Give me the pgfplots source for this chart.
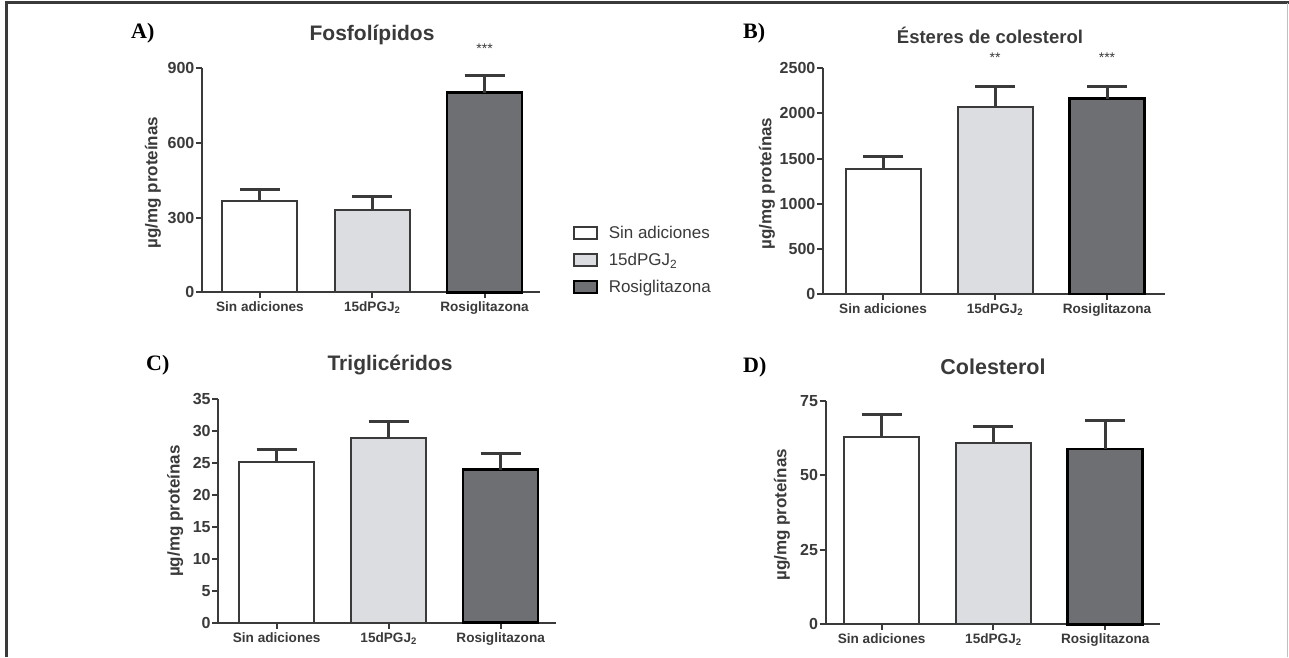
\documentclass[border=0pt]{standalone}
\usepackage{pgfplots}
\pgfplotsset{compat=1.18}
\usepackage{fontspec}
\setmainfont{Liberation Sans}
\newfontfamily\letterfont{Liberation Serif}
\definecolor{axc}{HTML}{3A3A3A}
\definecolor{lg}{HTML}{DCDDE0}
\definecolor{dg}{HTML}{6E6F72}
\pgfplotsset{
  prism/.style={
    scale only axis,
    axis lines=left,
    axis line style={-, line width=2pt, axc},
    tick style={line width=2pt, axc},
    tick align=outside,
    major tick length=6pt,
    ymin=0,
    xtick={0,1,2},
    xticklabels={Sin adiciones, 15dPGJ\textsubscript{2}, Rosiglitazona},
    ybar, bar width=75pt,
    /pgf/number format/assume math mode=true,
    /pgf/number format/set thousands separator={},
    yticklabel style={font=\fontsize{16}{16}\selectfont\bfseries, text=axc, inner sep=0pt, xshift=-1.5pt},
    xticklabel style={font=\fontsize{13.6}{14}\selectfont\bfseries, text=axc},
    every axis y label/.style={rotate=90, anchor=center, font=\fontsize{17}{17}\selectfont\bfseries, text=axc},
    clip=false,
    error bars/y dir=plus,
    error bars/y explicit,
    error bars/error mark=-,
    error bars/error mark options={rotate=90, line width=3pt, mark size=20pt, axc},
    error bars/error bar style={line width=3pt, axc},
    legend image code/.code={\draw[##1, line width=1.8pt] (0pt,-6pt) rectangle (23pt,6pt);},
  },
  b1/.style={fill=white, draw=axc, line width=2pt, bar shift=0pt},
  b2/.style={fill=lg, draw=axc, line width=2pt, bar shift=0pt},
  b3/.style={fill=dg, draw=black, line width=2.5pt, bar shift=0pt},
}
\begin{document}
\begin{tikzpicture}
\useasboundingbox (0,0) rectangle (1289pt,657pt);
\fill[white] (0,0) rectangle (1289pt,657pt);
% frame
\draw[line width=3pt, axc] (6pt,0) -- (6pt,654pt) -- (1289pt,654pt);
\draw[line width=1pt, black!25] (1287.5pt,0) -- (1287.5pt,654pt);

% ---------- A ----------
\begin{axis}[prism, at={(202pt,364.7pt)}, anchor=south west,
  width=338pt, height=224pt, xmin=-0.516, xmax=2.494,
  ymax=900, ytick={0,300,600,900},
  ylabel={µg/mg proteínas},
  every axis y label/.append style={at={(axis description cs:-0.145,0.49)}},
  legend style={at={(axis description cs:1.088,0.313)}, anchor=north west, draw=none, fill=none,
    font=\fontsize{17}{17}\selectfont, text=axc, row sep=9pt, cells={anchor=west},
    /tikz/every odd column/.append style={column sep=9pt}},
]
\addplot[b1] coordinates {(0,367) +- (0,46)};
\addplot[b2] coordinates {(1,331) +- (0,53)};
\addplot[b3] coordinates {(2,802) +- (0,71)};
\legend{Sin adiciones, 15dPGJ\textsubscript{2}, Rosiglitazona}
\node[font=\fontsize{14}{14}\selectfont, text=axc] at (axis cs:2,980) {***};
\end{axis}

% ---------- B ----------
\begin{axis}[prism, at={(823pt,363pt)}, anchor=south west,
  width=342pt, height=225.7pt, xmin=-0.536, xmax=2.518,
  ymax=2500, ytick={0,500,1000,1500,2000,2500},
  ylabel={µg/mg proteínas},
  every axis y label/.append style={at={(axis description cs:-0.164,0.49)}},
]
\addplot[b1] coordinates {(0,1381) +- (0,140)};
\addplot[b2] coordinates {(1,2068) +- (0,228)};
\addplot[b3] coordinates {(2,2165) +- (0,135)};
\node[font=\fontsize{14}{14}\selectfont, text=axc] at (axis cs:1,2615) {**};
\node[font=\fontsize{14}{14}\selectfont, text=axc] at (axis cs:2,2615) {***};
\end{axis}

% ---------- C ----------
\begin{axis}[prism, at={(218.3pt,34.3pt)}, anchor=south west,
  width=337.7pt, height=223.4pt, xmin=-0.521, xmax=2.494,
  ymax=35, ytick={0,5,10,15,20,25,30,35},
  ylabel={µg/mg proteínas},
  every axis y label/.append style={at={(axis description cs:-0.128,0.5)}},
]
\addplot[b1] coordinates {(0,25.1) +- (0,2.1)};
\addplot[b2] coordinates {(1,29.0) +- (0,2.6)};
\addplot[b3] coordinates {(2,24.0) +- (0,2.5)};
\end{axis}

% ---------- D ----------
\begin{axis}[prism, at={(825.7pt,32.7pt)}, anchor=south west,
  width=334.3pt, height=223.3pt, xmin=-0.5, xmax=2.490,
  ymax=75, ytick={0,25,50,75},
  ylabel={µg/mg proteínas},
  every axis y label/.append style={at={(axis description cs:-0.131,0.49)}},
]
\addplot[b1] coordinates {(0,62.9) +- (0,7.5)};
\addplot[b2] coordinates {(1,60.8) +- (0,5.6)};
\addplot[b3] coordinates {(2,58.9) +- (0,9.5)};
\end{axis}

% titles and panel letters
\node[font=\fontsize{21}{21}\selectfont\bfseries, text=axc] at (372pt,622pt) {Fosfolípidos};
\node[font=\fontsize{18.5}{18.5}\selectfont\bfseries, text=axc] at (990pt,622pt) {Ésteres de colesterol};
\node[font=\fontsize{21}{21}\selectfont\bfseries, text=axc] at (390pt,292pt) {Triglicéridos};
\node[font=\fontsize{21.5}{21.5}\selectfont\bfseries, text=axc] at (993pt,290pt) {Colesterol};
\node[font=\fontsize{22}{22}\selectfont\letterfont\bfseries, anchor=west, inner sep=0pt] at (131pt,624pt) {A)};
\node[font=\fontsize{22}{22}\selectfont\letterfont\bfseries, anchor=west, inner sep=0pt] at (743pt,624pt) {B)};
\node[font=\fontsize{22}{22}\selectfont\letterfont\bfseries, anchor=west, inner sep=0pt] at (146pt,292pt) {C)};
\node[font=\fontsize{22}{22}\selectfont\letterfont\bfseries, anchor=west, inner sep=0pt] at (743pt,290pt) {D)};
\end{tikzpicture}
\end{document}
